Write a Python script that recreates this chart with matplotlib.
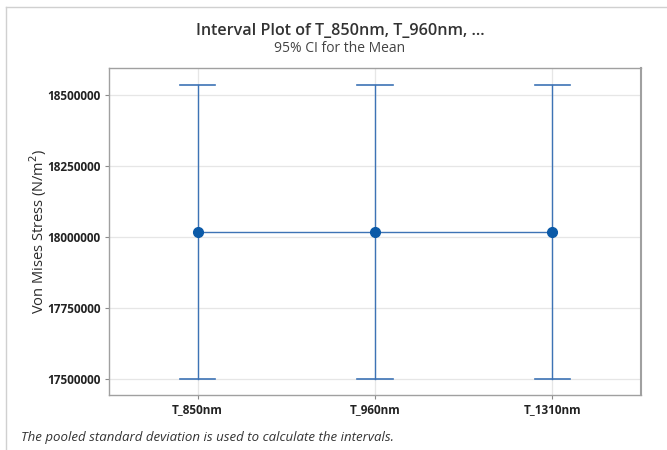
import matplotlib
matplotlib.use("Agg")
import matplotlib.pyplot as plt
from matplotlib.lines import Line2D

plt.rcParams['font.family'] = ['Open Sans', 'DejaVu Sans']

categories = ["T_850nm", "T_960nm", "T_1310nm"]
means = [18017500, 18017500, 18017500]
ci_lower = [17500000, 17500000, 17500000]
ci_upper = [18535000, 18535000, 18535000]
yticks = [17500000, 17750000, 18000000, 18250000, 18500000]

W, H = 667, 450
fig = plt.figure(figsize=(W / 100, H / 100), dpi=100)
ax = fig.add_axes([109 / W, 1 - 395 / H, (641 - 109) / W, (395 - 68) / H])

x = list(range(1, len(categories) + 1))
line_col = "#3d73b5"
for xi, lo, hi in zip(x, ci_lower, ci_upper):
    ax.plot([xi, xi], [lo, hi], color=line_col, lw=1.0, zorder=3)
    ax.plot([xi - 0.1, xi + 0.1], [lo, lo], color=line_col, lw=1.2, zorder=3)
    ax.plot([xi - 0.1, xi + 0.1], [hi, hi], color=line_col, lw=1.2, zorder=3)
ax.plot(x, means, color=line_col, lw=1.0, zorder=3)
ax.plot(x, means, 'o', color="#0b5aa8", ms=7, zorder=4)

ax.set_xlim(0.5, 3.5)
ax.set_ylim(17443700, 18595000)
ax.set_xticks(x)
ax.set_xticklabels(categories, fontsize=8.5, fontweight='bold', color="#222222")
ax.set_yticks(yticks)
ax.set_yticklabels([str(v) for v in yticks], fontsize=8.5, fontweight='bold', color="#222222")
ax.grid(True, color="#e6e6e6", lw=0.9)
ax.set_axisbelow(True)
for s in ax.spines.values():
    s.set_color("#a0a0a0")
    s.set_linewidth(1.0)
ax.spines['right'].set_linewidth(1.5)
ax.tick_params(axis='both', color="#8a8a8a", length=3, width=0.8, pad=3)

ax.set_ylabel("Von Mises Stress (N/m$^2$)", fontsize=10.5, color="#2a2a2a",
              fontweight='medium')
ax.yaxis.set_label_coords((49 - 109) / (641 - 109), 0.5)

fig.text(340 / W, 1 - 31 / H, "Interval Plot of T_850nm, T_960nm, ...", ha='center', va='center',
         fontsize=11.6, fontweight='semibold', color="#333333")
fig.text(340 / W, 1 - 48 / H, "95% CI for the Mean", ha='center', va='center',
         fontsize=10, color="#444444")
fig.text(21 / W, 1 - 438 / H, "The pooled standard deviation is used to calculate the intervals.",
         ha='left', va='center', fontsize=9.5, style='italic', color="#333333")

# outer panel border
fig.add_artist(Line2D([6 / W, 6 / W], [0, 1 - 7 / H], color="#d0d0d0", lw=1.0, transform=fig.transFigure))
fig.add_artist(Line2D([6 / W, 1], [1 - 7 / H, 1 - 7 / H], color="#d0d0d0", lw=1.0, transform=fig.transFigure))

fig.savefig("out.png", dpi=100)
